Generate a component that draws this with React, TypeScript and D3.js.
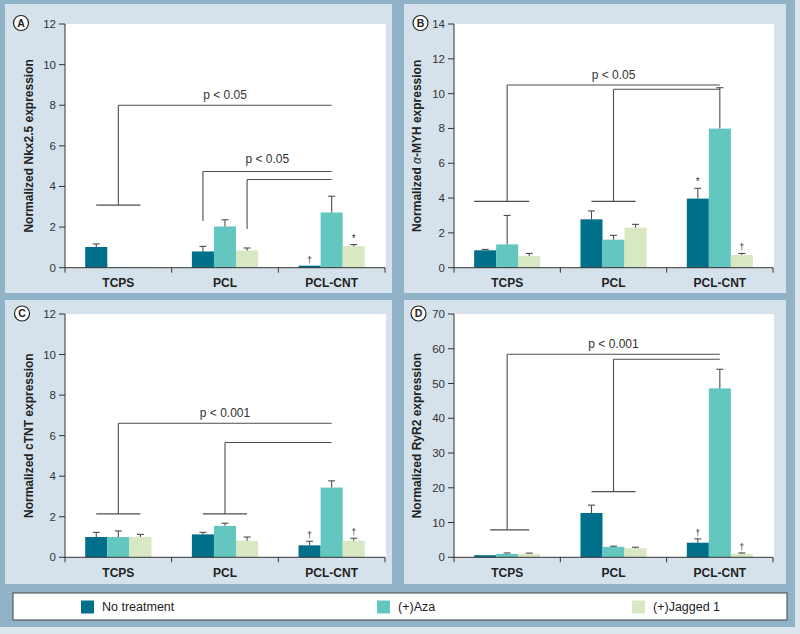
import React from 'react';
import * as d3 from 'd3';

const categories = ['TCPS', 'PCL', 'PCL-CNT'];
const seriesNames = ['No treatment', '(+)Aza', '(+)Jagged 1'];
const seriesColors = ['#006f8a', '#64c7bf', '#d7e8c3'];

// Panel A: Nkx2.5 (rows = series, cols = categories)
const nkxMeans = [[1.02, 0.8, 0.1], [0.02, 2.03, 2.72], [0.05, 0.85, 1.06]];
const nkxUpper = [[1.17, 1.05, 0.1], [0.02, 2.36, 3.52], [0.05, 0.97, 1.14]];
const nkxMarks = [['', '', '†'], ['', '', ''], ['', '', '*']];
const nkxTicks = [0, 2, 4, 6, 8, 10, 12];

// Panel B: alpha-MYH
const myhMeans = [[1.0, 2.78, 3.97], [1.34, 1.61, 7.99], [0.67, 2.3, 0.73]];
const myhUpper = [[1.05, 3.26, 4.56], [3.0, 1.86, 10.34], [0.82, 2.49, 0.82]];
const myhMarks = [['', '', '*'], ['', '', ''], ['', '', '†']];
const myhTicks = [0, 2, 4, 6, 8, 10, 12, 14];

// Panel C: cTNT
const ctntMeans = [[1.0, 1.13, 0.59], [1.0, 1.55, 3.44], [1.0, 0.82, 0.82]];
const ctntUpper = [[1.23, 1.23, 0.79], [1.3, 1.68, 3.77], [1.13, 1.0, 0.94]];
const ctntMarks = [['', '', '†'], ['', '', ''], ['', '', '†']];
const ctntTicks = [0, 2, 4, 6, 8, 10, 12];

// Panel D: RyR2
const ryrMeans = [[0.6, 12.75, 4.2], [1.0, 3.0, 48.6], [1.0, 2.6, 1.0]];
const ryrUpper = [[0.6, 15.0, 5.3], [1.25, 3.2, 54.1], [1.2, 2.9, 1.25]];
const ryrMarks = [['', '', '†'], ['', '', ''], ['', '', '†']];
const ryrTicks = [0, 10, 20, 30, 40, 50, 60, 70];

// significance brackets (levels in data units)
const nkxBrackets = [
  { from: 0, fromBar: 0, to: 2, level: 8.0, drop: 3.08, cross: [-1, 1] },
  { from: 1, fromBar: -1, to: 2, level: 4.74, drop: 2.3, cross: null },
  { from: 1, fromBar: 1, to: 2, level: 4.34, drop: 1.9, cross: null },
];
const nkxLabels = [
  { text: 'p < 0.05', from: 0, fromBar: 0, to: 2, level: 8.5 },
  { text: 'p < 0.05', from: 1, fromBar: -1, to: 2, level: 5.38 },
];
const myhBrackets = [
  { from: 0, fromBar: 0, to: 2, level: 10.5, drop: 3.81, cross: [-1.5, 1] },
  { from: 1, fromBar: 0, to: 2, level: 10.25, drop: 3.81, cross: [-1, 1] },
];
const myhLabels = [{ text: 'p < 0.05', from: 0, fromBar: 0, to: 2, level: 11.07 }];
const ctntBrackets = [
  { from: 0, fromBar: 0, to: 2, level: 6.61, drop: 2.14, cross: [-1, 1] },
  { from: 1, fromBar: 0, to: 2, level: 5.66, drop: 2.14, cross: [-1, 1] },
];
const ctntLabels = [{ text: 'p < 0.001', from: 0, fromBar: 0, to: 2, level: 7.14 }];
const ryrBrackets = [
  { from: 0, fromBar: 0, to: 2, level: 58.4, drop: 7.9, cross: [-0.77, 1] },
  { from: 1, fromBar: 0, to: 2, level: 57.0, drop: 18.9, cross: [-1, 1] },
];
const ryrLabels = [{ text: 'p < 0.001', from: 0, fromBar: 0, to: 2, level: 61.3 }];

const FONT = 'Liberation Sans, Arial, Helvetica, sans-serif';
const FRAME = '#91b3c7';
const PANEL_BG = '#d6e2eb';
const LINE = '#4d4d4d';

type PanelProps = {
  letter: string;
  title: React.ReactNode;
  means: number[][];
  upper: number[][];
  marks: string[][];
  ticks: number[];
  brackets: any[];
  labels: any[];
  box: [number, number, number, number];
  plot: { left: number; top: number; right: number; bottom: number };
  circle: [number, number];
  titleX: number;
};

function Panel(p: PanelProps) {
  const { plot } = p;
  const yMax = p.ticks[p.ticks.length - 1];
  const y = d3.scaleLinear().domain([0, yMax]).range([plot.bottom, plot.top]);
  const x0 = d3.scaleBand<string>().domain(categories).range([plot.left, plot.right]).padding(0);
  const step = x0.step();
  const bw = step * 0.207;
  const x1 = d3.scaleBand<string>().domain(seriesNames).range([-1.5 * bw, 1.5 * bw]).padding(0);
  const center = (ci: number) => (x0(categories[ci]) as number) + step / 2;
  const bx = (ci: number, pos: number) => center(ci) + pos * bw;

  return (
    <g>
      <rect x={p.box[0]} y={p.box[1]} width={p.box[2] - p.box[0]} height={p.box[3] - p.box[1]} fill={PANEL_BG} />
      <rect x={plot.left} y={plot.top} width={plot.right - plot.left + 1} height={plot.bottom - plot.top} fill="#fff" />
      {/* bars */}
      {seriesNames.map((s, si) =>
        categories.map((c, ci) => {
          const v = p.means[si][ci];
          const bx0 = center(ci) + (x1(s) as number);
          return (
            <rect key={s + c} x={bx0} y={y(v)} width={x1.bandwidth()} height={plot.bottom - y(v)} fill={seriesColors[si]} />
          );
        })
      )}
      {/* error bars */}
      {seriesNames.map((s, si) =>
        categories.map((c, ci) => {
          const v = p.means[si][ci];
          const u = p.upper[si][ci];
          const cx = center(ci) + (x1(s) as number) + x1.bandwidth() / 2;
          const mark = p.marks[si][ci];
          return (
            <g key={'e' + s + c}>
              {u > v && (
                <g stroke={LINE} strokeWidth={1.1}>
                  <line x1={cx} x2={cx} y1={y(v)} y2={y(u)} />
                  <line x1={cx - 3.5} x2={cx + 3.5} y1={y(u)} y2={y(u)} />
                </g>
              )}
              {mark && (
                <text x={cx} y={y(u) - 3} textAnchor="middle" fontSize={mark === '*' ? 10 : 9} fill="#333" fontFamily={FONT}>
                  {mark}
                </text>
              )}
            </g>
          );
        })
      )}
      {/* brackets */}
      {p.brackets.map((b, i) => {
        const xs = bx(b.from, b.fromBar);
        const xe = center(b.to);
        return (
          <g key={'b' + i} stroke={LINE} strokeWidth={1.1} fill="none">
            <line x1={xs} x2={xe} y1={y(b.level)} y2={y(b.level)} />
            <line x1={xs} x2={xs} y1={y(b.level)} y2={y(b.drop)} />
            {b.cross && <line x1={bx(b.from, b.cross[0])} x2={bx(b.from, b.cross[1])} y1={y(b.drop)} y2={y(b.drop)} />}
          </g>
        );
      })}
      {p.labels.map((l, i) => (
        <text key={'l' + i} x={(bx(l.from, l.fromBar) + center(l.to)) / 2} y={y(l.level)} dy="0.35em" textAnchor="middle" fontSize={12} fill="#333" fontFamily={FONT}>
          {l.text}
        </text>
      ))}
      {/* y axis */}
      <line x1={plot.left} x2={plot.left} y1={plot.bottom} y2={plot.top} stroke="#333" strokeWidth={1} />
      {p.ticks.map((t) => (
        <g key={'t' + t}>
          <line x1={plot.left - 6} x2={plot.left} y1={y(t)} y2={y(t)} stroke="#333" strokeWidth={1} />
          <text x={plot.left - 9} y={y(t)} dy="0.35em" textAnchor="end" fontSize={11.5} fill="#333" fontFamily={FONT}>
            {t}
          </text>
        </g>
      ))}
      {/* x axis */}
      <line x1={plot.left} x2={plot.right} y1={plot.bottom} y2={plot.bottom} stroke="#333" strokeWidth={1} />
      {[0, 1, 2, 3].map((i) => (
        <line key={'xt' + i} x1={plot.left + i * step} x2={plot.left + i * step} y1={plot.bottom} y2={plot.bottom + 5} stroke="#333" strokeWidth={1} />
      ))}
      {categories.map((c, ci) => (
        <text key={'c' + c} x={center(ci)} y={plot.bottom + 19.5} textAnchor="middle" fontSize={12} fontWeight="bold" fill="#222" fontFamily={FONT}>
          {c}
        </text>
      ))}
      {/* y title */}
      <text
        transform={`translate(${p.titleX},${(plot.top + plot.bottom) / 2}) rotate(-90)`}
        dy="0.35em"
        textAnchor="middle"
        fontSize={12}
        fontWeight="bold"
        fill="#222"
        fontFamily={FONT}
      >
        {p.title}
      </text>
      {/* letter */}
      <circle cx={p.circle[0]} cy={p.circle[1]} r={7.5} fill="#fff" stroke="#222" strokeWidth={1.2} />
      <text x={p.circle[0]} y={p.circle[1]} dy="0.36em" textAnchor="middle" fontSize={10.5} fontWeight="bold" fill="#222" fontFamily={FONT}>
        {p.letter}
      </text>
    </g>
  );
}

export default function App() {
  const legendX = [81, 377, 632];
  return (
    <div style={{ position: 'absolute', left: 0, top: 0 }}>
      <svg width={800} height={634} viewBox="0 0 800 634" style={{ display: 'block' }}>
        <rect x={0} y={0} width={800} height={634} fill="#dbe6ed" />
        <rect x={0} y={0} width={795} height={627} fill={FRAME} />
        <Panel
          letter="A"
          title="Normalized Nkx2.5 expression"
          means={nkxMeans}
          upper={nkxUpper}
          marks={nkxMarks}
          ticks={nkxTicks}
          brackets={nkxBrackets}
          labels={nkxLabels}
          box={[5, 4, 392, 293]}
          plot={{ left: 65, top: 24, right: 385, bottom: 267.7 }}
          circle={[21, 23]}
          titleX={28.5}
        />
        <Panel
          letter="B"
          title={
            <>
              {'Normalized '}
              <tspan fontStyle="italic" fontWeight="normal">α</tspan>
              {'-MYH expression'}
            </>
          }
          means={myhMeans}
          upper={myhUpper}
          marks={myhMarks}
          ticks={myhTicks}
          brackets={myhBrackets}
          labels={myhLabels}
          box={[404, 4, 786, 293]}
          plot={{ left: 454, top: 24, right: 773, bottom: 267.7 }}
          circle={[420.5, 23]}
          titleX={417}
        />
        <Panel
          letter="C"
          title="Normalized cTNT expression"
          means={ctntMeans}
          upper={ctntUpper}
          marks={ctntMarks}
          ticks={ctntTicks}
          brackets={ctntBrackets}
          labels={ctntLabels}
          box={[5, 300, 392, 584]}
          plot={{ left: 65, top: 314, right: 385, bottom: 557.3 }}
          circle={[22, 313.5]}
          titleX={28.5}
        />
        <Panel
          letter="D"
          title="Normalized RyR2 expression"
          means={ryrMeans}
          upper={ryrUpper}
          marks={ryrMarks}
          ticks={ryrTicks}
          brackets={ryrBrackets}
          labels={ryrLabels}
          box={[404, 300, 786, 584]}
          plot={{ left: 454, top: 314, right: 773, bottom: 557.3 }}
          circle={[418.5, 313.5]}
          titleX={417}
        />
        {/* legend */}
        <rect x={13} y={593} width={774} height={27} fill="#fff" stroke="#444" strokeWidth={1} />
        {seriesNames.map((s, i) => (
          <g key={'lg' + s}>
            <rect x={legendX[i]} y={600.5} width={13} height={13} fill={seriesColors[i]} />
            <text x={legendX[i] + 21} y={607} dy="0.35em" fontSize={12.5} fill="#222" fontFamily={FONT}>
              {s}
            </text>
          </g>
        ))}
      </svg>
    </div>
  );
}
